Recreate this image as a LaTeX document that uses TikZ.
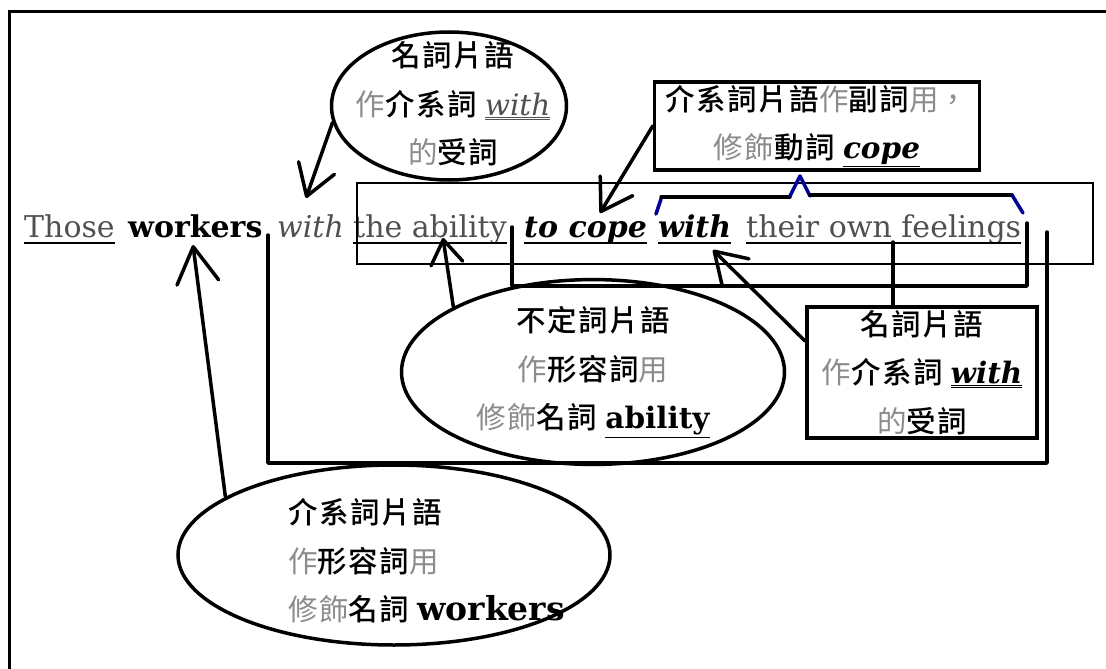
\documentclass[tikz,border=0pt]{standalone}
\usepackage{fontspec}
\setmainfont{DejaVu Serif}
\newfontfamily\cjk{Noto Sans CJK TC}[BoldFont={* Medium}, LetterSpace=5]
\usetikzlibrary{shapes.geometric,arrows.meta,calc}
\definecolor{lg}{RGB}{140,140,140}
\definecolor{txt}{RGB}{80,80,80}
\definecolor{bbl}{RGB}{0,0,150}
\newcommand\dul[1]{\underline{\underline{#1}}}
\newcommand\lgt[1]{{\mdseries\color{lg}#1}}
\begin{document}
\begin{tikzpicture}[x=1pt,y=-1pt,
  frame/.style={line width=3pt},
  shp/.style={draw, line width=3.5pt, inner sep=0pt},
  arr/.style={line width=3.5pt, line cap=round, -{Straight Barb[length=30pt,width=38pt,round]}},
  brk/.style={line width=3.5pt, line join=round, line cap=round},
  thinbox/.style={line width=2pt},
  word/.style={anchor=base west, inner sep=0pt, font=\fontsize{30}{30}\selectfont},
  ul/.style={line width=2pt},
  zh/.style={font=\cjk\bfseries\fontsize{29.5}{48.5}\selectfont, align=center, inner sep=0pt}
]
\useasboundingbox (0,0) rectangle (1106,669);
% outer frame
\draw[frame] (9,669) -- (9,12) -- (1106,12);

% sentence words
\node[word, text=txt] (w1) at (24,237) {Those};
\node[word] (w2) at (128,237) {\bfseries workers};
\node[word, text=txt] (w3) at (277,237) {\itshape with};
\node[word, text=txt] (w4) at (353,237) {the ability};
\node[word] (w5) at (524,237) {\bfseries\itshape to cope};
\node[word] (w6) at (658,237) {\bfseries\itshape with};
\node[word, text=txt] (w7) at (746,237) {their own feelings};
\foreach \w in {w1,w4,w5,w6,w7}
  \draw[ul] ([yshift=-6pt]\w.base west) -- ([yshift=-6pt]\w.base east);

% thin rectangle around the phrase
\draw[thinbox] (357,183) rectangle (1093,264);

% big L bracket
\draw[brk] (268,235) -- (268,463) -- (1047,463) -- (1047,232);

% bottom bracket
\draw[brk] (512,227) -- (512,286) -- (1027,286) -- (1027,223);

% top bracket (blue ticks)
\draw[brk, bbl] (656,214) -- (661,199);
\draw[brk] (661,197) -- (790,197);
\draw[brk, bbl] (790,196) -- (800,176) -- (810,196);
\draw[brk] (810,195) -- (1012,195);
\draw[brk, bbl] (1012,195) -- (1023,213);

% shapes
\node[shp, ellipse, minimum width=235pt, minimum height=148pt] (e1) at (449,106) {};
\node[zh] at (453,104) {名詞片語\\\lgt{作}介系詞 {\rmfamily\mdseries\itshape\color{txt}\dul{with}}\\\lgt{的}受詞};

\node[shp, rectangle, minimum width=325pt, minimum height=88pt, zh] (b1) at (817,126)
  {介系詞片語\lgt{作}副詞\lgt{用}\lgt{，}\\\lgt{修飾}動詞 {\rmfamily\bfseries\itshape\underline{cope}}};

\node[shp, ellipse, minimum width=383pt, minimum height=161pt, zh] (e2) at (593,372)
  {不定詞片語\\\lgt{作}形容詞\lgt{用}\\\lgt{修飾}名詞 {\rmfamily\bfseries\underline{ability}}};

\node[shp, rectangle, minimum width=230pt, minimum height=131pt, zh] (b2) at (922,372.5)
  {名詞片語\\\lgt{作}介系詞 {\rmfamily\bfseries\itshape\dul{with}}\\\lgt{的}受詞};

\node[shp, ellipse, minimum width=432pt, minimum height=180pt] (e3) at (394,555) {};
\node[zh, align=left, anchor=west] at (288,561)
  {介系詞片語\\\lgt{作}形容詞\lgt{用}\\\lgt{修飾}名詞 {\rmfamily\bfseries\fontsize{33}{48.5}\selectfont workers}};

% vertical from "own" to box b2
\coordinate (own) at (893,242);
\draw[brk] (own) -- (own |- b2.north);

% arrows
\coordinate (ta) at (306,198);
\coordinate (tb) at (600,213);
\coordinate (tc) at (443,238);
\coordinate (td) at (713,250);
\coordinate (te) at (193,245);
\draw[arr] (e1.188) -- (ta);
\draw[arr] (b1.west) -- (tb);
\draw[arr, -{Straight Barb[length=24pt,width=32pt,round]}] (e2.155) -- (tc);
\draw[arr] (b2.165) -- (td);
\draw[arr, -{Straight Barb[length=36pt,width=42pt,round]}] (e3.161) -- (te);
\end{tikzpicture}
\end{document}
